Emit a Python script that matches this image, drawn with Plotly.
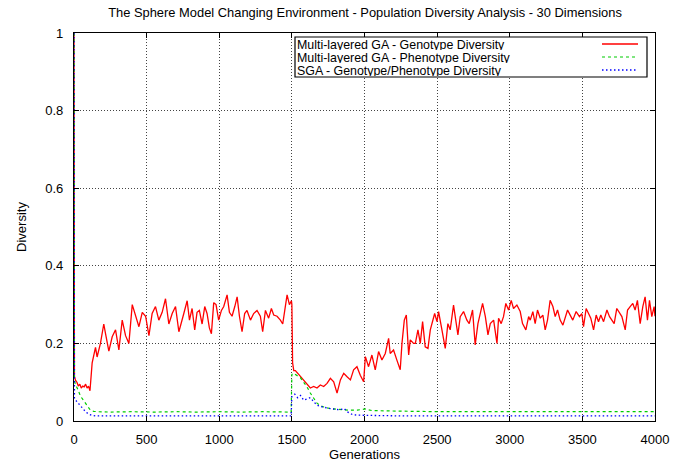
import plotly.graph_objects as go

# ---------------- data ----------------
series_names = [
    "Multi-layered GA - Genotype Diversity",
    "Multi-layered GA - Phenotype Diversity",
    "SGA - Genotype/Phenotype Diversity",
]

geno_gen = [0, 3, 10, 20, 30, 40, 50, 60, 70, 80, 90, 100, 110,
            113, 125, 148, 159, 182, 205, 217, 240, 263, 286, 309, 332, 355, 378,
            401, 424, 447, 470, 493, 516, 538, 561, 584, 607, 630, 653, 676, 699,
            722, 756,
            779, 795, 813, 831, 847, 863, 882, 900, 916, 932, 946, 962, 978, 996,
            1015, 1031, 1054, 1070, 1088, 1107, 1123, 1139, 1157, 1175, 1191, 1215,
            1237, 1260, 1283, 1299, 1318, 1340, 1359, 1375, 1398, 1421, 1437, 1451,
            1467, 1483, 1497, 1500, 1505, 1513, 1524, 1547, 1570, 1590,
            1604, 1627, 1650, 1673, 1696, 1719, 1742, 1765, 1788, 1811, 1834, 1857,
            1880, 1903, 1925, 1948, 1971, 1994, 2006, 2028, 2051, 2074, 2097, 2120,
            2143, 2166, 2177, 2200, 2223, 2246, 2258, 2274, 2288, 2304, 2315, 2338,
            2350, 2368, 2384, 2400, 2418, 2437, 2453, 2469, 2483, 2499, 2510, 2529,
            2545, 2556, 2574, 2590, 2613, 2629, 2643, 2659, 2682, 2705, 2721, 2744,
            2762, 2781, 2797, 2813, 2832, 2850, 2866, 2889, 2912, 2923, 2941, 2957,
            2973, 2992, 3010, 3026, 3049, 3072, 3088, 3111, 3130,
            3141, 3159, 3175, 3191, 3210, 3228, 3244, 3260, 3278, 3297, 3313, 3329,
            3347, 3366, 3382, 3398, 3416, 3434, 3457, 3480, 3496, 3508, 3526, 3542,
            3558, 3577, 3595, 3611, 3627, 3646, 3669, 3687, 3703, 3719, 3737, 3756,
            3772, 3795, 3811, 3829, 3847, 3863, 3879, 3898, 3916, 3932, 3948, 3962,
            3978, 3994, 4000]
geno_div = [1.0, 0.115, 0.105, 0.10, 0.09, 0.095, 0.085, 0.09, 0.088, 0.095, 0.085, 0.09, 0.078,
            0.095, 0.15, 0.19, 0.165, 0.20, 0.25, 0.225, 0.18, 0.217, 0.235, 0.183, 0.26, 0.22, 0.20,
            0.30, 0.27, 0.243, 0.28, 0.27, 0.22, 0.277, 0.295, 0.26, 0.28, 0.315, 0.25, 0.277, 0.295,
            0.23, 0.277,
            0.31, 0.26, 0.29, 0.235, 0.28, 0.285, 0.25, 0.295, 0.277, 0.24, 0.225, 0.305, 0.30, 0.26,
            0.285, 0.295, 0.325, 0.28, 0.27, 0.295, 0.32, 0.27, 0.23, 0.277, 0.285, 0.26,
            0.277, 0.285, 0.27, 0.23, 0.285, 0.265, 0.29, 0.273, 0.27, 0.26, 0.25, 0.285,
            0.325, 0.30, 0.31, 0.30, 0.15, 0.13, 0.13, 0.12, 0.11, 0.10,
            0.093, 0.085, 0.089, 0.085, 0.093, 0.089, 0.097, 0.11, 0.101, 0.072, 0.106, 0.123,
            0.114, 0.106, 0.132, 0.14, 0.118, 0.101, 0.166, 0.14, 0.17, 0.132, 0.179, 0.157,
            0.174, 0.213, 0.174, 0.183, 0.157, 0.132, 0.20, 0.26, 0.273, 0.17, 0.209, 0.20,
            0.20, 0.235, 0.20, 0.256, 0.191, 0.187, 0.235, 0.26, 0.277, 0.256, 0.282, 0.243,
            0.213, 0.187, 0.251, 0.235, 0.299, 0.26, 0.222, 0.269, 0.282, 0.26, 0.251, 0.286,
            0.196, 0.251, 0.277, 0.303, 0.269, 0.222, 0.251, 0.26, 0.20, 0.265, 0.251, 0.269,
            0.303, 0.286, 0.311, 0.29, 0.299, 0.282, 0.251, 0.235, 0.269,
            0.26, 0.282, 0.251, 0.286, 0.265, 0.273, 0.235, 0.26, 0.311, 0.295, 0.269, 0.286,
            0.26, 0.247, 0.269, 0.286, 0.273, 0.26, 0.282, 0.269, 0.277, 0.243, 0.29, 0.277,
            0.265, 0.235, 0.273, 0.256, 0.273, 0.256, 0.286, 0.269, 0.26, 0.251, 0.29, 0.277,
            0.269, 0.235, 0.286, 0.295, 0.303, 0.286, 0.311, 0.251, 0.295, 0.32, 0.26, 0.311,
            0.269, 0.295, 0.27]

pheno_gen = [0, 3, 10, 22, 45, 68, 91, 113, 136, 160, 250, 400, 550, 700, 850, 1000,
             1150, 1300, 1495, 1500, 1510, 1535, 1558, 1581, 1604, 1627, 1650, 1673,
             1696, 1720, 1765, 1810, 1850, 1900, 1950, 2005, 2050, 2150, 2300, 2500,
             2750, 3000, 3250, 3500, 3750, 4000]
pheno_div = [1.0, 0.105, 0.093, 0.085, 0.064, 0.051, 0.039, 0.028, 0.025, 0.024, 0.023, 0.024,
             0.023, 0.024, 0.023, 0.024, 0.023, 0.024, 0.023, 0.12, 0.123, 0.117, 0.112, 0.10,
             0.088, 0.072, 0.058, 0.046, 0.04, 0.036, 0.032, 0.03, 0.029, 0.028, 0.028, 0.031,
             0.027, 0.026, 0.025, 0.024, 0.024, 0.024, 0.024, 0.024, 0.024, 0.024]

sga_gen = [0, 3, 10, 30, 45, 68, 80, 100, 120, 150, 400, 700, 1000, 1300, 1495, 1500,
           1520, 1540, 1560, 1581, 1604, 1627, 1650, 1673, 1700, 1740, 1765, 1800, 1830,
           1860, 1880, 1900, 1920, 1960, 2000, 2100, 2300, 2600, 3000, 3500, 4000]
sga_div = [1.0, 0.058, 0.054, 0.045, 0.038, 0.03, 0.024, 0.018, 0.015, 0.013, 0.013, 0.013,
           0.013, 0.013, 0.013, 0.063, 0.069, 0.06, 0.066, 0.054, 0.058, 0.06, 0.05, 0.041,
           0.037, 0.033, 0.032, 0.03, 0.029, 0.032, 0.024, 0.02, 0.016, 0.015, 0.015, 0.014,
           0.013, 0.013, 0.013, 0.013, 0.013]

x_ticks = [0, 500, 1000, 1500, 2000, 2500, 3000, 3500, 4000]
y_ticks = [0, 0.2, 0.4, 0.6, 0.8, 1]
y_tick_labels = ["0", "0.2", "0.4", "0.6", "0.8", "1"]

colors = ["#ff0000", "#00cc00", "#0000ff"]
dashes = ["solid", "3px,3px", "1.5px,2.5px"]
widths = [1.3, 1.2, 1.3]

# ---------------- figure ----------------
FONT = "Liberation Sans, Arial, Helvetica, sans-serif"
W, H = 686, 464
L, R, T, B = 74, 655, 33, 421

fig = go.Figure()
for name, xs, ys, c, d, w in zip(series_names,
                                  [geno_gen, pheno_gen, sga_gen],
                                  [geno_div, pheno_div, sga_div],
                                  colors, dashes, widths):
    fig.add_trace(go.Scatter(x=xs, y=ys, mode="lines", name=name,
                             line=dict(color=c, width=w, dash=d),
                             showlegend=False))

def px(x):
    return (x - L) / (R - L)
def py(y):
    return (B - y) / (B - T)

# gnuplot-style legend (text on the left, sample on the right, inside a box)
fig.add_shape(type="rect", xref="paper", yref="paper",
              x0=px(295), x1=px(647), y0=py(77), y1=py(37),
              line=dict(color="black", width=1.2), fillcolor="white", layer="above")
row_y = [44, 57, 70]
for name, c, d, w, yy in zip(series_names, colors, dashes, widths, row_y):
    fig.add_annotation(xref="paper", yref="paper", x=px(295.5), y=py(yy),
                       text=name, showarrow=False, xanchor="left", yanchor="middle",
                       height=11, valign="middle", borderpad=0,
                       font=dict(family=FONT, size=12.4, color="black"))
    fig.add_shape(type="line", xref="paper", yref="paper",
                  x0=px(602), x1=px(638), y0=py(yy), y1=py(yy),
                  line=dict(color=c, width=w, dash=d), layer="above")

fig.update_layout(
    width=W, height=H, autosize=False,
    margin=dict(l=L, r=W - R, t=T, b=H - B, pad=0, autoexpand=False),
    paper_bgcolor="white", plot_bgcolor="white",
    font=dict(family=FONT, size=13, color="black"),
    title=dict(text="The Sphere Model Changing Environment - Population Diversity Analysis - 30 Dimensions",
               x=px(365), xref="paper", y=1 - 12 / H, yref="container",
               xanchor="center", yanchor="middle", automargin=False,
               font=dict(family=FONT, size=12.9, color="black")),
)
fig.update_xaxes(range=[0, 4000], tickvals=x_ticks, ticktext=[str(v) for v in x_ticks],
                 showline=True, linecolor="black", linewidth=1.3, mirror="ticks",
                 ticks="inside", ticklen=5, tickcolor="black", automargin=False,
                 showgrid=True, gridcolor="#444444", griddash="1px,2px", gridwidth=1,
                 zeroline=False, ticklabelstandoff=6,
                 title=dict(text="Generations", standoff=4,
                            font=dict(family=FONT, size=13)))
fig.update_yaxes(range=[0, 1], tickvals=y_ticks, ticktext=y_tick_labels,
                 showline=True, linecolor="black", linewidth=1.3, mirror="ticks",
                 ticks="inside", ticklen=5, tickcolor="black", automargin=False,
                 showgrid=True, gridcolor="#444444", griddash="1px,2px", gridwidth=1,
                 zeroline=False, ticklabelstandoff=7,
                 title=dict(text="Diversity", standoff=15,
                            font=dict(family=FONT, size=13)))

fig.write_html("out.html", config={"displayModeBar": False},
               post_script="document.body.style.margin='0';")
